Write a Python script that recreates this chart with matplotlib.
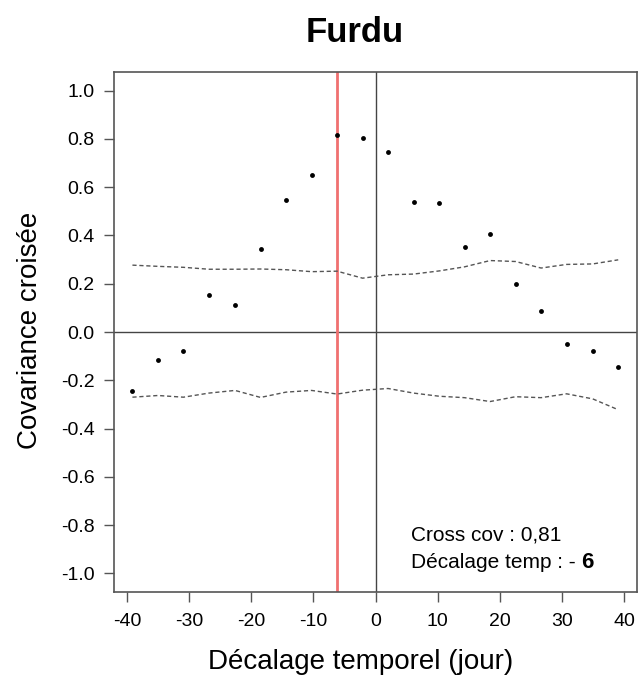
import matplotlib
matplotlib.use("Agg")
import matplotlib.pyplot as plt

plt.rcParams['font.family'] = ['Liberation Sans', 'DejaVu Sans']

# ---------------- donnees ----------------
lags = [-39.1, -35.0, -30.9, -26.8, -22.6, -18.5, -14.4, -10.3, -6.2, -2.1,
        2.0, 6.1, 10.2, 14.3, 18.4, 22.5, 26.6, 30.7, 34.9, 39.0]
ccov = [-0.246, -0.116, -0.079, 0.152, 0.111, 0.343, 0.548, 0.649, 0.816, 0.804,
        0.744, 0.539, 0.535, 0.353, 0.408, 0.199, 0.089, -0.051, -0.079, -0.145]
ic_haut = [0.277, 0.272, 0.268, 0.260, 0.260, 0.261, 0.258, 0.250, 0.252, 0.223,
           0.237, 0.240, 0.253, 0.270, 0.296, 0.292, 0.265, 0.280, 0.282, 0.299]
ic_bas = [-0.270, -0.263, -0.270, -0.253, -0.242, -0.271, -0.249, -0.242, -0.257, -0.241,
          -0.234, -0.253, -0.266, -0.272, -0.288, -0.268, -0.272, -0.256, -0.277, -0.322]
lag_max = -6.2
xticks = [-40, -30, -20, -10, 0, 10, 20, 30, 40]
yticks = [1.0, 0.8, 0.6, 0.4, 0.2, 0.0, -0.2, -0.4, -0.6, -0.8, -1.0]

fig = plt.figure(figsize=(6.39, 6.8), dpi=100)
ax = fig.add_axes([0.179, 0.1294, 0.8177, 0.7647])

ax.axhline(0, color='#444444', lw=1)
ax.axvline(0, color='#444444', lw=1)
ax.axvline(lag_max, color='#f07070', lw=2)

ax.plot(lags, ic_haut, color='#555555', lw=1, dashes=(3, 2))
ax.plot(lags, ic_bas, color='#555555', lw=1, dashes=(3, 2))
ax.plot(lags, ccov, 'o', color='black', ms=3.5, mew=0)

ax.set_xlim(-42, 42)
ax.set_ylim(-1.077, 1.077)
ax.set_xticks(xticks)
ax.set_xticklabels([str(v) for v in xticks])
ax.set_yticks(yticks)
ax.set_yticklabels(['%.1f' % v for v in yticks])
ax.tick_params(length=7.2, width=1, color='#555555', labelsize=14)
ax.tick_params(axis='y', pad=7)
ax.tick_params(axis='x', pad=8)
for s in ax.spines.values():
    s.set_color('#555555')
    s.set_linewidth(1.2)

fig.text(355 / 639, 1 - 32 / 680, 'Furdu', ha='center', va='center',
         fontsize=25, fontweight='bold')
fig.text(361 / 639, 1 - 662 / 680, 'Décalage temporel (jour)', ha='center', va='center',
         fontsize=20)
fig.text(30 / 639, 1 - 330 / 680, 'Covariance croisée', ha='center', va='center',
         rotation=90, fontsize=20)

ax.text(5.7, -0.842, 'Cross cov : 0,81', ha='left', va='center', fontsize=15)
t = ax.text(5.7, -0.955, 'Décalage temp : - ', ha='left', va='center', fontsize=15)
ax.annotate('6', xy=(1, 0.5), xycoords=t, ha='left', va='center',
            fontsize=16, fontweight='bold')

fig.savefig('out.png', dpi=100)
